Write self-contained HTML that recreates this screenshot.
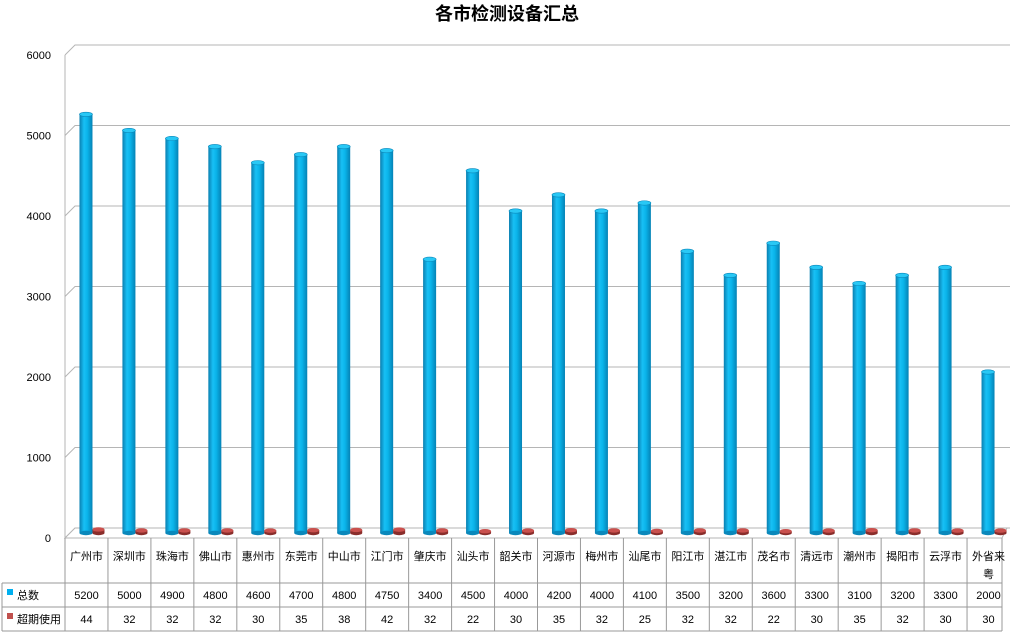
<!DOCTYPE html>
<html><head><meta charset="utf-8"><style>
body{margin:0;background:#fff;}
svg text{font-family:"Liberation Sans","Noto Sans CJK SC",sans-serif;}
</style></head><body>
<svg id="c" width="1014" height="633" xmlns="http://www.w3.org/2000/svg">
<defs>
<linearGradient id="gb" x1="0" x2="1"><stop offset="0" stop-color="#0a7fb0"/><stop offset="0.35" stop-color="#18c0f5"/><stop offset="0.6" stop-color="#0ab4ea"/><stop offset="1" stop-color="#0582b5"/></linearGradient>
<linearGradient id="gr" x1="0" x2="1"><stop offset="0" stop-color="#8a2d2b"/><stop offset="0.4" stop-color="#d0504d"/><stop offset="1" stop-color="#8a2d2b"/></linearGradient>
</defs>
<text x="507" y="20" text-anchor="middle" font-size="18" font-weight="bold">各市检测设备汇总</text>
<g id="grid"></g><g id="bars"></g><g id="tbl"></g>
</svg>
<script>
const categories=["广州市","深圳市","珠海市","佛山市","惠州市","东莞市","中山市","江门市","肇庆市","汕头市","韶关市","河源市","梅州市","汕尾市","阳江市","湛江市","茂名市","清远市","潮州市","揭阳市","云浮市","外省来粤"];
const totalValues=[5200,5000,4900,4800,4600,4700,4800,4750,3400,4500,4000,4200,4000,4100,3500,3200,3600,3300,3100,3200,3300,2000];
const overdueValues=[44,32,32,32,30,35,38,42,32,22,30,35,32,25,32,32,22,30,35,32,30,30];
const yTicks=[0,1000,2000,3000,4000,5000,6000];
const NS="http://www.w3.org/2000/svg";
const X0=65,X1=1010,colW=(X1-X0)/categories.length,D=10;
function yF(v){return 538-v*0.0805;}
function yM(v){return 533-v*0.0805;}
function cx(i){return X0+colW*(i+0.5);}
function mk(p,tag,a,txt){const e=document.createElementNS(NS,tag);for(const k in a)e.setAttribute(k,a[k]);if(txt!=null)e.textContent=txt;p.appendChild(e);return e;}
const g=document.getElementById('grid'),b=document.getElementById('bars'),t=document.getElementById('tbl');
yTicks.forEach(v=>{
  const y=yF(v);
  const l=mk(g,'polyline',{points:`${X0},${y} ${X0+D},${y-D} ${X1},${y-D}`,fill:'none',stroke:'#b5b5b5','stroke-width':1});
  
  
  const tx=mk(g,'text',{x:51,y:y+4,'text-anchor':'end','font-size':11},String(v));
  
  
});
mk(g,'line',{x1:X0,y1:yF(0),x2:X0,y2:yF(6000),stroke:'#b5b5b5'});
mk(g,'polygon',{points:`${X0},538 ${X0+D},528 ${X1-3},528 ${X1-8},538`,fill:'#fff',stroke:'#b5b5b5'});
categories.forEach((c,i)=>{
  const x=cx(i)-7,w=13,top=yM(totalValues[i]);
  const r=mk(b,'rect',{x:x,y:top,width:w,height:533-top,fill:'url(#gb)'});
  
  
  mk(b,'ellipse',{cx:x+w/2,cy:top,rx:w/2,ry:2.2,fill:'#29c8f5',stroke:'#0a88bb','stroke-width':0.6});
  mk(b,'ellipse',{cx:x+w/2,cy:533,rx:w/2,ry:2.2,fill:'#0a88bb'});
  const rx=cx(i)+6,rw=12,rt=yM(overdueValues[i]);
  const rr=mk(b,'rect',{x:rx,y:rt,width:rw,height:533-rt,fill:'url(#gr)'});
  
  
  mk(b,'ellipse',{cx:rx+rw/2,cy:533,rx:rw/2,ry:2.2,fill:'#8a2d2b'});
  mk(b,'ellipse',{cx:rx+rw/2,cy:rt,rx:rw/2,ry:2.2,fill:'#c9504d'});
});
// table
mk(t,'line',{x1:X0,y1:538,x2:X0,y2:631,stroke:'#999'});
mk(t,'line',{x1:2,y1:583,x2:X1-8,y2:583,stroke:'#999'});
mk(t,'line',{x1:2,y1:607,x2:X1-8,y2:607,stroke:'#999'});
mk(t,'line',{x1:2,y1:631,x2:X1-8,y2:631,stroke:'#999'});
mk(t,'line',{x1:2,y1:583,x2:2,y2:631,stroke:'#999'});
for(let i=0;i<=categories.length;i++){const x=X0+colW*i-(i==categories.length?8:0);mk(t,'line',{x1:x,y1:538,x2:x,y2:631,stroke:'#999'});}
mk(t,'rect',{x:7,y:589,width:6,height:6,fill:'#00b0f0'});
mk(t,'text',{x:17,y:599,'font-size':11},'总数');
mk(t,'rect',{x:7,y:613,width:6,height:6,fill:'#c0504d'});
mk(t,'text',{x:17,y:623,'font-size':11},'超期使用');
categories.forEach((c,i)=>{
  const x=cx(i);
  if(c.length>3){
    mk(t,'text',{x:x,y:560,'text-anchor':'middle','font-size':11},c.slice(0,3));
    mk(t,'text',{x:x,y:578,'text-anchor':'middle','font-size':11},c.slice(3));
  } else {
    const e=mk(t,'text',{x:x,y:560,'text-anchor':'middle','font-size':11},c);
    
    
  }
  mk(t,'text',{x:x,y:599,'text-anchor':'middle','font-size':11},String(totalValues[i]));
  mk(t,'text',{x:x,y:623,'text-anchor':'middle','font-size':11},String(overdueValues[i]));
});
</script>
</body></html>
